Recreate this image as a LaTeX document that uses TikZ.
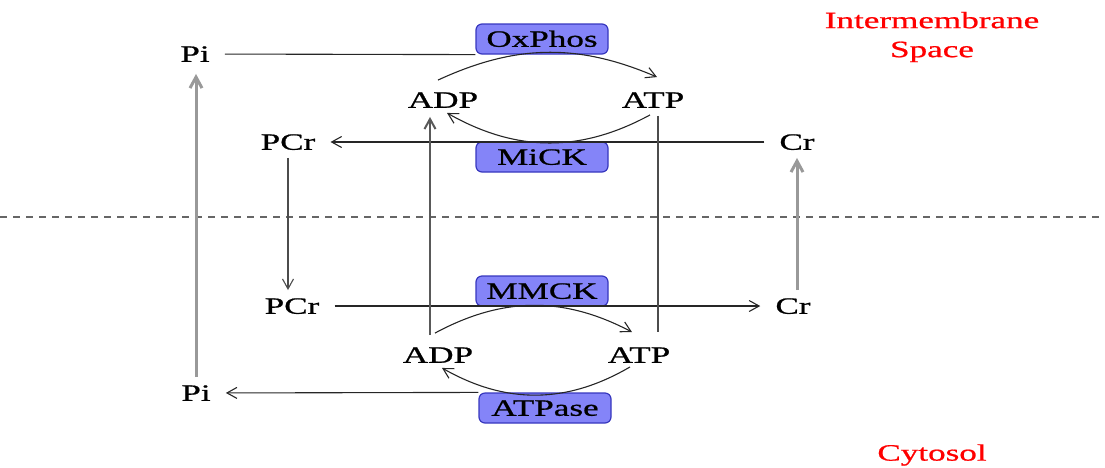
\documentclass[tikz,border=0pt]{standalone}
\usepackage{fontspec}
\setmainfont{Liberation Serif}[FakeStretch=1.5,FakeBold=0.8]
\usepackage{tikz}
\usetikzlibrary{arrows.meta}
\definecolor{enzfill}{RGB}{132,132,248}
\definecolor{enzline}{RGB}{55,55,190}
\newcommand{\lblfont}{\fontsize{23.4}{29}\selectfont}

\begin{document}
\begin{tikzpicture}[x=1pt,y=1pt,
	met/.style={font=\lblfont,text height=15.5pt,text depth=0pt,inner xsep=15pt,inner ysep=8pt},
	enz/.style={draw=enzline,fill=enzfill,line width=1.2pt,rounded corners=6pt,minimum width=132pt,minimum height=30pt,
		inner sep=0pt,font=\lblfont,text height=15.5pt,text depth=0pt},
	ln/.style={line width=1.1pt,black!85},
	arr/.style={ln,-{Straight Barb[length=10pt,width=11pt]}},
	carrier/.style={line width=3pt,black!40,-{Straight Barb[length=11pt,width=12pt]}}]
\useasboundingbox (0,0) rectangle (1105,-467);

% membrane
\draw[black!60,line width=1.2pt,dash pattern=on 7pt off 6pt] (0,-217) -- (1105,-217);

\foreach \n/\t/\x/\y in {PiT/Pi/195/54,PCrT/PCr/288/142,CrT/Cr/797/142,ADPt/ADP/443/100,ATPt/ATP/653/100,
		PCrB/PCr/292/306,CrB/Cr/793/306,ADPb/ADP/438/355,ATPb/ATP/639/355,PiB/Pi/196/393} {
		\node[met] (\n) at (\x,-\y) {\t};}
\foreach \n/\x/\y in {OxPhos/542/39,MiCK/542/157,MMCK/542/291,ATPase/545/408} {
		\node[enz] (\n) at (\x,-\y) {\n};}

\node[red,font=\lblfont,align=center] (ims) at (932,-37) {Intermembrane\\Space};
\node[red,font=\lblfont] (cyt) at (932,-455) {Cytosol};

\draw[ln] (OxPhos.south west) -- (PiT);
\draw[arr] ([shift={(-5,4)}]ADPt.north) to[bend left=24] ([shift={(4,7)}]ATPt.north);
\draw[arr] ([shift={(-3,1)}]ATPt.south) to[bend left=29] ([shift={(4,3)}]ADPt.south);
\draw[arr] (CrT) -- (PCrT);
\draw[arr] (PCrB) -- (CrB);
\draw[arr] ([shift={(-3,6)}]ADPb.north) to[bend left=28] ([shift={(-7,7)}]ATPb.north);
\draw[arr] ([shift={(-9,4)}]ATPb.south) to[bend left=30] ([shift={(4,3)}]ADPb.south);
\draw[arr] (ATPase.north west) -- (PiB);

\draw[ln,black!70] ([xshift=5pt]ATPt.south) -- ([shift={(19,7)}]ATPb.north);
\draw[arr,black!70] (PCrT.south) -- (PCrT.south |- PCrB.north);
\draw[arr,line width=2pt,black!65] ([shift={(-8,4)}]ADPb.north) -- ([shift={(-13,-1)}]ADPt.south);
\draw[carrier,shorten >=4pt] (PiB.north) -- (PiB.north |- PiT.south);
\draw[carrier] (CrT.south |- CrB.north) -- (CrT.south);
\end{tikzpicture}
\end{document}
